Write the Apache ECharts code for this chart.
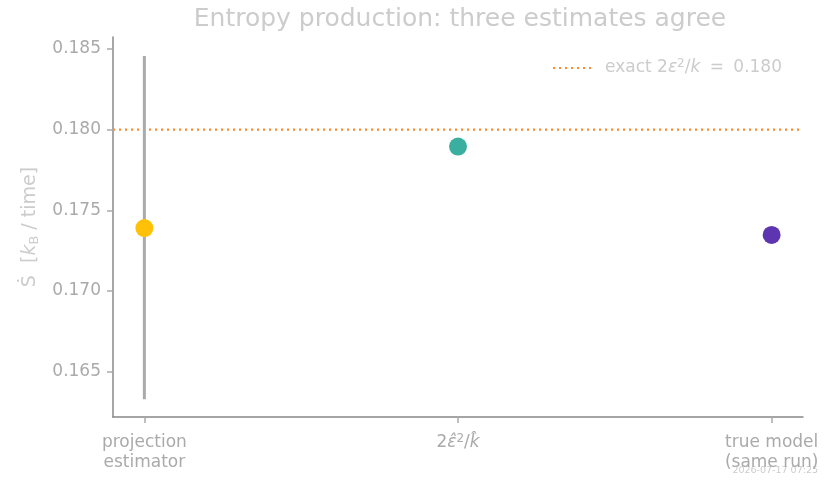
<!DOCTYPE html>
<html>
<head>
<meta charset="UTF-8">
<title>Entropy production</title>
<script type="text/javascript" src="https://cdn.jsdelivr.net/npm/echarts@6/dist/echarts.min.js"></script>
</head>
<body style="margin:0;">
<div id="main" style="width: 825px; height: 480px;"></div>
<script type="text/javascript">
// estimates, one per category
var categories = ['projection\nestimator', '{n|2}{sym|ε̂}{sup|2}{n|/}{it|k̂}', 'true model\n(same run)'];
var estimates = [0.1739, 0.17895, 0.17347];
var pointColors = ['#FFC107', '#3AAFA0', '#5E35B1'];
// error bar of the projection estimator
var errLow = 0.16329;
var errHigh = 0.18456;
var exactValue = 0.180;
var yTicks = [0.165, 0.170, 0.175, 0.180, 0.185];

var myChart = echarts.init(document.getElementById('main'));
var font = 'DejaVu Sans';
var tickGrey = '#aaaaaa';
var lightGrey = '#cccccc';

var option = {
    backgroundColor: '#ffffff',
    animation: false,
    textStyle: { fontFamily: font },
    title: {
        text: 'Entropy production: three estimates agree',
        left: 455, top: 2, textAlign: 'center',
        textStyle: { color: lightGrey, fontSize: 25, fontWeight: 'normal', fontFamily: font }
    },
    legend: {
        right: 38, top: 53,
        itemWidth: 40, itemHeight: 10, itemGap: 10,
        data: ['exact'],
        itemStyle: { color: 'transparent', borderWidth: 0 },
        formatter: function () {
            return '{gap|}{t|exact 2}{it|ε}{sup|2}{t|/}{it|k}{eq| = }{t|0.180}';
        },
        textStyle: {
            color: lightGrey, fontSize: 17, fontFamily: font,
            rich: {
                gap: { width: 7 },
                t: { color: lightGrey, fontSize: 17, fontFamily: font },
                eq: { color: lightGrey, fontSize: 17, fontFamily: font, padding: [0, 4, 0, 4] },
                it: { color: lightGrey, fontSize: 17, fontStyle: 'italic', fontFamily: font },
                sup: { color: lightGrey, fontSize: 12, verticalAlign: 'top', padding: [0, 0, 8, 0], fontFamily: font }
            }
        }
    },
    grid: { left: 113, right: 22, top: 37, bottom: 63 },
    xAxis: {
        type: 'value', min: -0.1, max: 2.1,
        splitLine: { show: false },
        axisLine: { onZero: false, lineStyle: { color: '#888888', width: 1.5 } },
        axisTick: { customValues: [0, 1, 2], length: 6, lineStyle: { color: tickGrey, width: 1.5 } },
        axisLabel: {
            customValues: [0, 1, 2],
            color: tickGrey, fontSize: 17, margin: 16, lineHeight: 20, fontFamily: font,
            formatter: function (v) { return categories[Math.round(v)]; },
            rich: {
                n: { color: tickGrey, fontSize: 17, fontFamily: font },
                sym: { color: tickGrey, fontSize: 17, fontStyle: 'italic', fontFamily: font },
                it: { color: tickGrey, fontSize: 17, fontStyle: 'italic', fontFamily: font },
                sup: { color: tickGrey, fontSize: 12, verticalAlign: 'top', padding: [0, 0, 8, 0], fontFamily: font }
            }
        }
    },
    yAxis: {
        type: 'value', min: 0.16219, max: 0.18574,
        splitLine: { show: false },
        axisLine: { show: true, onZero: false, lineStyle: { color: '#888888', width: 1.5 } },
        axisTick: { show: true, customValues: yTicks, length: 6, lineStyle: { color: tickGrey, width: 1.5 } },
        axisLabel: {
            customValues: yTicks,
            color: tickGrey, fontSize: 17, margin: 12, fontFamily: font,
            formatter: function (v) { return v.toFixed(3); }
        },
        name: '{s|Ṡ}{t|  [}{it|k}{sub|B}{t| / time]}',
        nameLocation: 'middle', nameGap: 72, nameRotate: 90,
        nameTextStyle: {
            color: lightGrey, fontSize: 19, fontFamily: font,
            rich: {
                s: { color: lightGrey, fontSize: 19, fontFamily: font },
                t: { color: lightGrey, fontSize: 19, fontFamily: font },
                it: { color: lightGrey, fontSize: 19, fontStyle: 'italic', fontFamily: font },
                sub: { color: lightGrey, fontSize: 13, verticalAlign: 'bottom', padding: [8, 0, 0, 0], fontFamily: font }
            }
        }
    },
    series: [
        {
            name: 'exact', type: 'line', symbol: 'none', silent: true,
            data: [[-0.1, exactValue], [2.1, exactValue]],
            lineStyle: { color: '#FF8A2E', width: 2.2, type: [2, 4] },
            itemStyle: { color: '#FF8A2E' },
            z: 1
        },
        {
            name: 'err', type: 'line', symbol: 'none', silent: true,
            data: [[0, errLow], [0, errHigh]],
            lineStyle: { color: '#aaaaaa', width: 3 },
            z: 2
        },
        {
            name: 'points', type: 'scatter', symbolSize: 18,
            data: estimates.map(function (v, i) {
                return { value: [i, v], itemStyle: { color: pointColors[i], opacity: 1 } };
            }),
            z: 3
        }
    ],
    graphic: [{
        type: 'text', right: 7, bottom: 4,
        style: { text: '2026-07-17 07:25', fill: lightGrey, fontSize: 9.5, fontFamily: font }
    }]
};

myChart.setOption(option);
</script>
</body>
</html>
